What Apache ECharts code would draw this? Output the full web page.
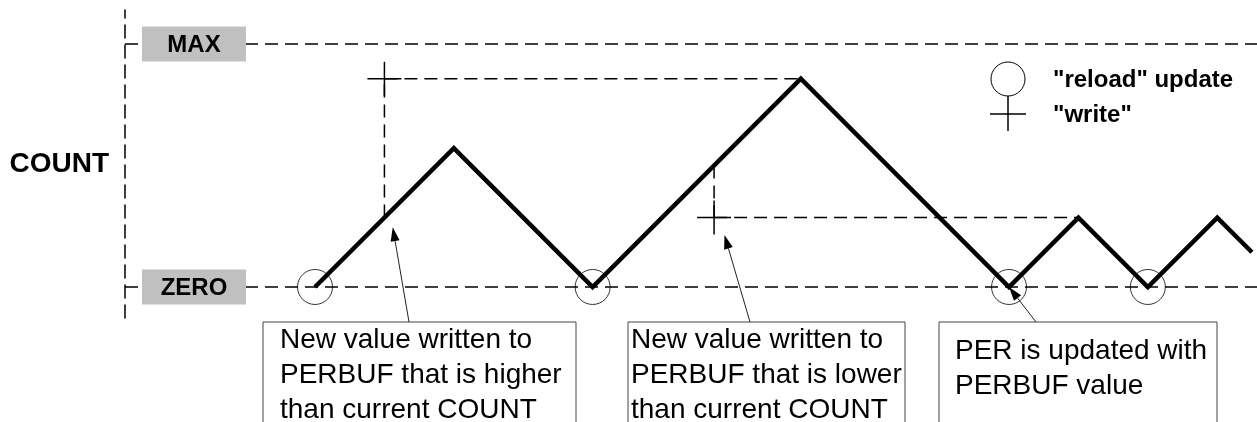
<!DOCTYPE html>
<html>
<head>
<meta charset="utf-8">
<script src="https://cdn.jsdelivr.net/npm/echarts@6/dist/echarts.min.js"></script>
<style>
html,body{margin:0;padding:0;background:#fff;}
#main{width:1257px;height:422px;}
</style>
</head>
<body>
<div id="main"></div>
<script>
// COUNT 三角波（横轴：时间单位，纵轴：计数单位）
var countT = [0, 2, 4, 7, 10, 11, 12, 13, 13.5];
var countV = [0, 2, 0, 3, 0, 1, 0, 1, 0.5];
// MAX / ZERO 电平
var levelNames = ['MAX', 'ZERO'];
var levelValues = [3.5, 0];
// "reload" 更新点
var reloadT = [0, 4, 10, 12];
// "write" 写入点：时间、写入值、写入时的COUNT、COUNT到达写入值的时间
var writeT = [1, 5.75];
var writeV = [3, 1];
var writeFromV = [1, 1.75];
var writeReachT = [7, 11];
// 注释文字 + 箭头所指的位置
var noteText = [
	'New value written to\nPERBUF that is higher\nthan current COUNT',
	'New value written to\nPERBUF that is lower\nthan current COUNT',
	'PER is updated with\nPERBUF value'
];
var noteTipT = [1.12, 5.9, 10];
var noteTipV = [0.86, 0.75, 0];
var legendText = ['"reload" update', '"write"'];

// 版面（像素）：框左、框右、文字左、箭头尾x、文字顶
var noteLayout = [
	[263, 576, 280, 409, 323],
	[628, 905, 631, 750, 323],
	[939, 1217, 955, 1036, 334]
];
var noteTop = 322;

var FONT = '"Liberation Sans", Arial, sans-serif';
var dash = [13, 7];

var chart = echarts.init(document.getElementById('main'));

var option = {
	animation: false,
	grid: {left: 125, right: 0, top: 10, bottom: 104},
	xAxis: {type: 'value', min: -2.738, max: 13.573, show: false},
	yAxis: {
		type: 'value', min: -0.447, max: 3.991,
		axisLine: {show: true, onZero: false, lineStyle: {color: '#000', width: 1.5, type: dash}},
		axisTick: {show: false},
		axisLabel: {show: false},
		splitLine: {show: false},
		name: 'COUNT',
		nameLocation: 'middle',
		nameRotate: 0,
		nameGap: 16,
		nameTextStyle: {color: '#000', fontSize: 28, fontWeight: 'bold', fontFamily: FONT}
	},
	series: [
		{
			// MAX / ZERO 虚线和灰色标签
			type: 'custom',
			silent: true,
			z: 1,
			data: levelValues.map(function(v){ return [0, v]; }),
			encode: {x: 0, y: 1},
			renderItem: function(params, api){
				var cs = params.coordSys;
				var y = api.coord([0, api.value(1)])[1];
				return {type: 'group', children: [
					{type: 'line', shape: {x1: cs.x, y1: y, x2: cs.x + cs.width, y2: y},
						style: {stroke: '#000', lineWidth: 1.5, lineDash: dash}},
					{type: 'rect', shape: {x: cs.x + 17, y: y - 17.5, width: 104, height: 35},
						style: {fill: '#c0c0c0'}},
					{type: 'text', x: cs.x + 69, y: y + 1,
						style: {text: levelNames[params.dataIndex], font: 'bold 24px ' + FONT,
							fill: '#000', align: 'center', verticalAlign: 'middle'}}
				]};
			}
		},
		{
			// 写入点的十字和虚线
			type: 'custom',
			silent: true,
			z: 2,
			data: writeT.map(function(t, i){ return [t, writeV[i], writeFromV[i], writeReachT[i]]; }),
			encode: {x: 0, y: 1},
			renderItem: function(params, api){
				var p = api.coord([api.value(0), api.value(1)]);
				var from = api.coord([api.value(0), api.value(2)]);
				var reach = api.coord([api.value(3), api.value(1)]);
				var a = 17;
				var ls = {stroke: '#000', lineWidth: 1.5};
				return {type: 'group', children: [
					{type: 'line', shape: {x1: p[0], y1: from[1], x2: p[0], y2: p[1]},
						style: {stroke: '#000', lineWidth: 1.5, lineDash: dash}},
					{type: 'line', shape: {x1: p[0], y1: p[1], x2: reach[0], y2: p[1]},
						style: {stroke: '#000', lineWidth: 1.5, lineDash: dash}},
					{type: 'line', shape: {x1: p[0] - a, y1: p[1], x2: p[0] + a, y2: p[1]}, style: ls},
					{type: 'line', shape: {x1: p[0], y1: p[1] - a, x2: p[0], y2: p[1] + a}, style: ls}
				]};
			}
		},
		{
			name: 'COUNT',
			type: 'line',
			z: 3,
			silent: true,
			symbol: 'none',
			data: countT.map(function(t, i){ return [t, countV[i]]; }),
			lineStyle: {color: '#000', width: 4.5, join: 'miter', miterLimit: 10}
		},
		{
			name: 'reload',
			type: 'scatter',
			z: 4,
			silent: true,
			symbol: 'circle',
			symbolSize: 35,
			data: reloadT.map(function(t){ return [t, 0]; }),
			itemStyle: {color: 'rgba(0,0,0,0)', borderColor: '#000', borderWidth: 1}
		}
	]
};
chart.setOption(option);

// 注释框、箭头、图例
function buildGraphic(){
	var g = [];
	for(var i=0;i<noteText.length;i++){
		var L = noteLayout[i];
		g.push({type: 'rect', z: 10, shape: {x: L[0], y: noteTop, width: L[1] - L[0], height: 150},
			style: {fill: '#fff', stroke: '#444', lineWidth: 1}});
		g.push({type: 'text', z: 11, x: L[2], y: L[4],
			style: {text: noteText[i], font: '28px ' + FONT, fill: '#000', lineHeight: 35, verticalAlign: 'top'}});
		// 箭头
		var tip = chart.convertToPixel({gridIndex: 0}, [noteTipT[i], noteTipV[i]]);
		var tx = L[3], ty = noteTop;
		var dx = tip[0] - tx, dy = tip[1] - ty;
		var len = Math.sqrt(dx*dx + dy*dy);
		var ux = dx/len, uy = dy/len;
		var hl = 14, hw = 4.5;
		var bx = tip[0] - ux*hl, by = tip[1] - uy*hl;
		g.push({type: 'line', z: 11, shape: {x1: tx, y1: ty, x2: bx, y2: by},
			style: {stroke: '#222', lineWidth: 1}});
		g.push({type: 'polygon', z: 11, shape: {points: [
			[tip[0], tip[1]],
			[bx - uy*hw, by + ux*hw],
			[bx + uy*hw, by - ux*hw]
		]}, style: {fill: '#000'}});
	}
	// 图例
	var cx = 1008, cy = 79;
	g.push({type: 'circle', shape: {cx: cx, cy: cy, r: 17}, style: {fill: 'none', stroke: '#000', lineWidth: 1}});
	g.push({type: 'line', shape: {x1: cx, y1: cy + 17, x2: cx, y2: cy + 52}, style: {stroke: '#000', lineWidth: 1.5}});
	g.push({type: 'line', shape: {x1: cx - 18, y1: cy + 35, x2: cx + 18, y2: cy + 35}, style: {stroke: '#000', lineWidth: 1.5}});
	for(var j=0;j<legendText.length;j++){
		g.push({type: 'text', x: 1053, y: cy + 35*j + 1,
			style: {text: legendText[j], font: 'bold 24px ' + FONT, fill: '#000', verticalAlign: 'middle'}});
	}
	return g;
}
chart.setOption({graphic: buildGraphic()});
</script>
</body>
</html>
